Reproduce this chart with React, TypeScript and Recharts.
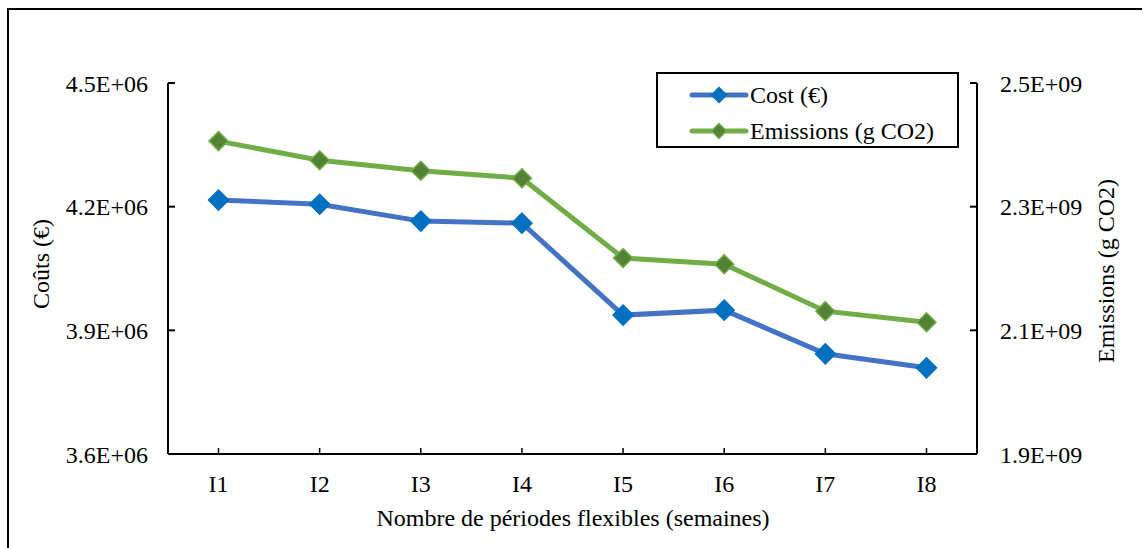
import { LineChart, Line, XAxis, YAxis } from 'recharts';

const categories = ['I1', 'I2', 'I3', 'I4', 'I5', 'I6', 'I7', 'I8'];
const costValues = [4216000, 4206000, 4165000, 4160000, 3937000, 3949000, 3843000, 3809000];
const emissionValues = [2406e6, 2375e6, 2358e6, 2346e6, 2217e6, 2207e6, 2131e6, 2113e6];
const costTicks = [3.6e6, 3.9e6, 4.2e6, 4.5e6];
const emissionTicks = [1.9e9, 2.1e9, 2.3e9, 2.5e9];

const data = categories.map((name, i) => ({
  name,
  cost: costValues[i],
  emissions: emissionValues[i],
}));

const FONT = '"Liberation Serif", "Times New Roman", serif';
const TICK_SIZE = 24;
const TITLE_SIZE = 24;

function sci(v: number) {
  const [m, e] = v.toExponential(1).split('e');
  const sign = e[0] === '-' ? '-' : '+';
  const exp = e.replace(/[+-]/, '').padStart(2, '0');
  return `${m}E${sign}${exp}`;
}

function diamond(cx: number, cy: number, r: number, fill: string, stroke: string, key?: string) {
  return (
    <polygon
      key={key}
      points={`${cx},${cy - r} ${cx + r},${cy} ${cx},${cy + r} ${cx - r},${cy}`}
      fill={fill}
      stroke={stroke}
      strokeWidth={1.5}
    />
  );
}

const LeftTick = (props: any) => {
  const { x, y, payload } = props;
  return (
    <g>
      <line x1={x} x2={x + 7} y1={y} y2={y} stroke="#000" strokeWidth={2} />
      <text x={x - 20} y={y} dy="0.355em" textAnchor="end" style={{ fontFamily: FONT, fontSize: TICK_SIZE }} fill="#000">
        {sci(payload.value)}
      </text>
    </g>
  );
};

const RightTick = (props: any) => {
  const { x, y, payload } = props;
  return (
    <g>
      <line x1={x - 7} x2={x} y1={y} y2={y} stroke="#000" strokeWidth={2} />
      <text x={x + 23} y={y} dy="0.355em" textAnchor="start" style={{ fontFamily: FONT, fontSize: TICK_SIZE }} fill="#000">
        {sci(payload.value)}
      </text>
    </g>
  );
};

const BottomTick = (props: any) => {
  const { x, y, payload } = props;
  return (
    <g>
      <line x1={x} x2={x} y1={y} y2={y - 6} stroke="#000" strokeWidth={1.5} />
      <text x={x} y={y + 29} dy="0.355em" textAnchor="middle" style={{ fontFamily: FONT, fontSize: TICK_SIZE }} fill="#000">
        {payload.value}
      </text>
    </g>
  );
};

const CostDot = (props: any) => {
  const { cx, cy, index } = props;
  return diamond(cx, cy, 10, '#0070C0', '#0070C0', `c${index}`);
};

const EmissionDot = (props: any) => {
  const { cx, cy, index } = props;
  return diamond(cx, cy, 9.5, '#548235', '#70AD47', `e${index}`);
};

const legendItems = [
  { label: 'Cost (€)', line: '#4472C4', fill: '#0070C0', stroke: '#0070C0' },
  { label: 'Emissions (g CO2)', line: '#70AD47', fill: '#548235', stroke: '#70AD47' },
];

const LegendBox = () => (
  <div
    style={{
      position: 'absolute',
      left: 656,
      top: 72,
      width: 303,
      height: 76,
      border: '2px solid #000',
      background: '#fff',
      boxSizing: 'border-box',
      fontFamily: FONT,
      fontSize: TITLE_SIZE,
      color: '#000',
      paddingTop: 3,
    }}
  >
    {legendItems.map((it, i) => (
      <div key={i} style={{ display: 'flex', alignItems: 'center', height: 36, lineHeight: '36px' }}>
        <svg width={92} height={20} style={{ flexShrink: 0 }}>
          <line x1={34} x2={88} y1={10} y2={10} stroke={it.line} strokeWidth={5} strokeLinecap="round" />
          {diamond(61, 10, 7.5, it.fill, it.stroke)}
        </svg>
        <span style={{ whiteSpace: 'nowrap' }}>{it.label}</span>
      </div>
    ))}
  </div>
);

export default function App() {
  return (
    <div style={{ position: 'absolute', left: 0, top: 0, width: 1143, height: 548, background: '#fff', overflow: 'hidden' }}>
      <div
        style={{
          position: 'absolute',
          left: 7,
          top: 8,
          width: 1135,
          height: 560,
          borderLeft: '2px solid #000',
          borderTop: '2px solid #000',
          boxSizing: 'border-box',
        }}
      />
      <div style={{ position: 'absolute', left: 0, top: 0 }}>
        <LineChart
          width={1143}
          height={548}
          data={data}
          margin={{ top: 83, right: 66, bottom: 54, left: 68 }}
        >
          <XAxis
            dataKey="name"
            height={40}
            padding={{ left: 50.5, right: 50.5 }}
            tickSize={0}
            tickMargin={0}
            tick={<BottomTick />}
            axisLine={{ stroke: '#000', strokeWidth: 2 }}
          />
          <YAxis
            yAxisId="left"
            orientation="left"
            width={100}
            domain={[3.6e6, 4.5e6]}
            ticks={costTicks}
            tickSize={0}
            tickMargin={0}
            tick={<LeftTick />}
            axisLine={{ stroke: '#000', strokeWidth: 2 }}
          />
          <YAxis
            yAxisId="right"
            orientation="right"
            width={100}
            domain={[1.9e9, 2.5e9]}
            ticks={emissionTicks}
            tickSize={0}
            tickMargin={0}
            tick={<RightTick />}
            axisLine={{ stroke: '#000', strokeWidth: 2 }}
          />
          <Line
            yAxisId="left"
            dataKey="cost"
            name="Cost (€)"
            type="linear"
            stroke="#4472C4"
            strokeWidth={5}
            dot={<CostDot />}
            activeDot={false}
            isAnimationActive={false}
          />
          <Line
            yAxisId="right"
            dataKey="emissions"
            name="Emissions (g CO2)"
            type="linear"
            stroke="#70AD47"
            strokeWidth={5}
            dot={<EmissionDot />}
            activeDot={false}
            isAnimationActive={false}
          />
        </LineChart>
      </div>
      <LegendBox />
      <div
        style={{
          position: 'absolute',
          left: 41,
          top: 264,
          transform: 'translate(-50%, -50%) rotate(-90deg)',
          fontFamily: FONT,
          fontSize: TITLE_SIZE,
          whiteSpace: 'nowrap',
        }}
      >
        Coûts (€)
      </div>
      <div
        style={{
          position: 'absolute',
          left: 1106,
          top: 271,
          transform: 'translate(-50%, -50%) rotate(-90deg)',
          fontFamily: FONT,
          fontSize: TITLE_SIZE,
          whiteSpace: 'nowrap',
        }}
      >
        Emissions (g CO2)
      </div>
      <div
        style={{
          position: 'absolute',
          left: 573,
          top: 518,
          transform: 'translate(-50%, -50%)',
          fontFamily: FONT,
          fontSize: TITLE_SIZE,
          whiteSpace: 'nowrap',
        }}
      >
        Nombre de périodes flexibles (semaines)
      </div>
    </div>
  );
}
